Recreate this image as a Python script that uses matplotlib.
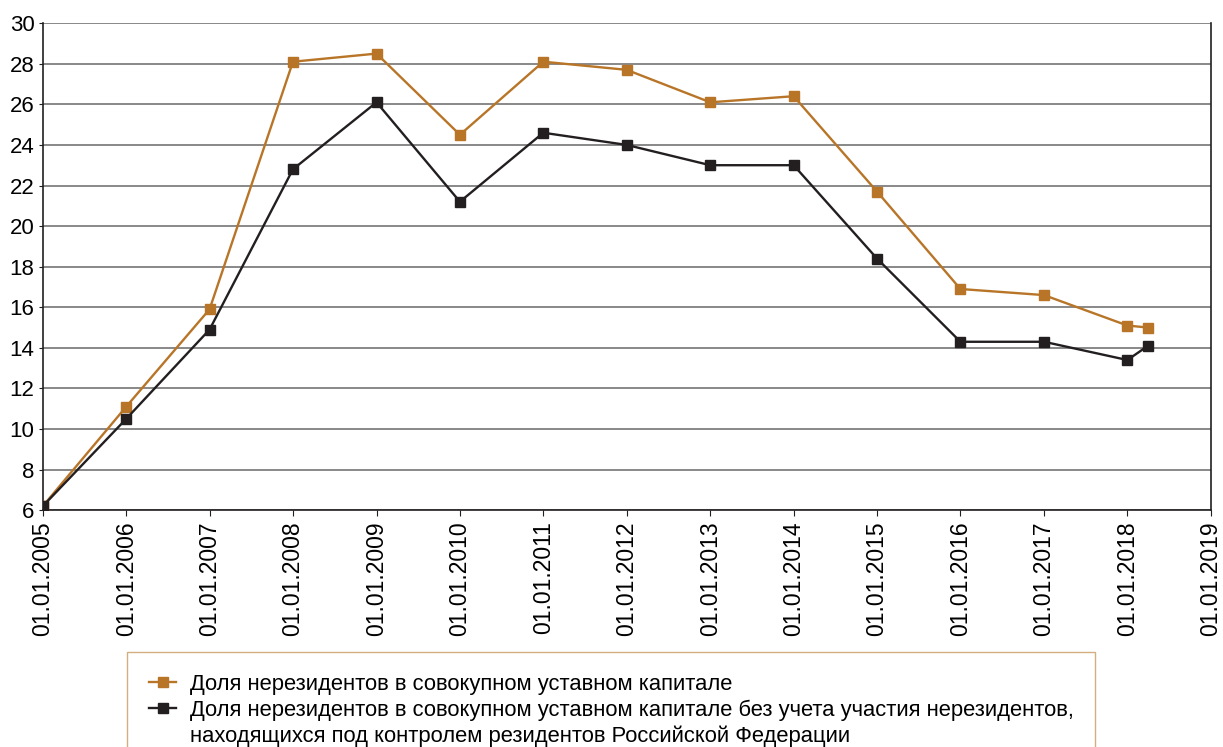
import datetime as dt

import matplotlib
matplotlib.use("Agg")
from matplotlib import pyplot as plt
from matplotlib.lines import Line2D
import matplotlib.dates as mdates

plt.rcParams['font.family'] = ['Liberation Sans', 'DejaVu Sans']

dates = [dt.date(y, 1, 1) for y in range(2005, 2019)] + [dt.date(2018, 4, 1)]
share_total = [6.2, 11.1, 15.9, 28.1, 28.5, 24.5, 28.1, 27.7, 26.1, 26.4,
               21.7, 16.9, 16.6, 15.1, 15.0]
share_excl = [6.2, 10.5, 14.9, 22.8, 26.1, 21.2, 24.6, 24.0, 23.0, 23.0,
              18.4, 14.3, 14.3, 13.4, 14.1]
tick_years = list(range(2005, 2020))
label_total = "Доля нерезидентов в совокупном уставном капитале"
label_excl = "Доля нерезидентов в совокупном уставном капитале без учета участия нерезидентов,"
label_excl_cont = "находящихся под контролем резидентов Российской Федерации"

orange = "#b87528"
black = "#231f20"

fig = plt.figure(figsize=(12.23, 7.47), dpi=100)
ax = fig.add_axes([0.035, 0.317, 0.955, 0.652])

l1, = ax.plot(dates, share_total, color=orange, lw=1.7, marker="s", ms=7.8, zorder=3)
l2, = ax.plot(dates, share_excl, color=black, lw=1.7, marker="s", ms=7.8, zorder=4)

ax.set_xlim(dt.date(2005, 1, 1), dt.date(2019, 1, 1))
ax.set_ylim(6, 30)
ax.set_yticks(range(6, 31, 2))
ax.set_xticks([dt.date(y, 1, 1) for y in tick_years])
ax.xaxis.set_major_formatter(mdates.DateFormatter("%d.%m.%Y"))
ax.tick_params(axis="x", labelrotation=90, labelsize=16.5, length=4, color=black, pad=4)
ax.tick_params(axis="y", labelsize=16, length=3, color=black, pad=3)
ax.grid(axis="y", color="#7f7f7f", lw=1.3)
ax.set_axisbelow(True)
ax.spines["top"].set_visible(False)
for s in ("left", "bottom", "right"):
    ax.spines[s].set_color(black)
    ax.spines[s].set_linewidth(1.2)

blank = Line2D([], [], color="none")
leg = fig.legend([l1, l2, blank], [label_total, label_excl, label_excl_cont],
                 loc="upper left", bbox_to_anchor=(127 / 1223, 1 - 652 / 747),
                 fontsize=15.8, frameon=True, fancybox=False, handlelength=1.25,
                 borderpad=1.0, borderaxespad=0, labelspacing=0.2,
                 handletextpad=0.6)
leg.get_frame().set_edgecolor("#c89a60")
leg.get_frame().set_linewidth(1.0)

fig.savefig("out.png", dpi=100)
